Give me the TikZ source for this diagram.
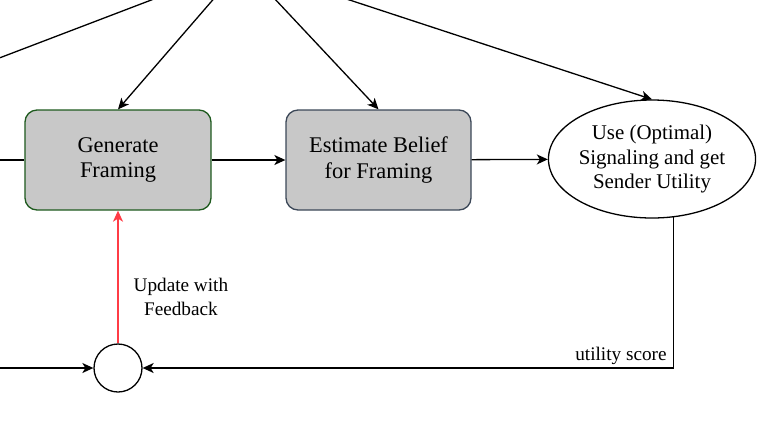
\documentclass[tikz,border=0pt]{standalone}
\usepackage{fontspec}
\setmainfont{Liberation Serif}
\usetikzlibrary{positioning,shapes.geometric,arrows.meta,calc}
\definecolor{genedge}{RGB}{30, 90, 30}
\definecolor{estedge}{RGB}{60, 72, 88}
\definecolor{boxfill}{RGB}{200, 200, 200}
\definecolor{feedred}{RGB}{255, 60, 70}

\begin{document}
\begin{tikzpicture}[
    x=1bp, y=-1bp,
    line width=1.3bp,
    font=\fontsize{22.5}{26}\selectfont,
    >={Stealth[length=11bp, width=10bp, inset=3bp]},
    stepbox/.style={rectangle, rounded corners=12bp, fill=boxfill, draw,
        minimum width=186bp, minimum height=100bp, align=center, inner sep=2bp},
    edgetext/.style={font=\fontsize{19.3}{24}\selectfont, align=center, inner sep=2bp},
]

\useasboundingbox (0,0) rectangle (767,420);
\clip (0,0) rectangle (767,420);

% ===== nodes =====
\node[stepbox, draw=genedge] (gen) at (118,160) {Generate\\Framing};
\node[stepbox, draw=estedge, minimum width=185bp] (est) at (378.5,160) {Estimate Belief\\for Framing};
\node[ellipse, draw, minimum width=202bp, minimum height=118bp, inner sep=0pt,
    align=center, font=\fontsize{21}{25}\selectfont] (use) at (652,159)
    {Use (Optimal)\\Signaling and get\\Sender Utility};
\node[circle, draw, minimum size=48bp, inner sep=0pt] (fb) at (118,368) {};

% off-picture ends
\coordinate (src) at (243,-35);
\coordinate (srcleft) at (-40,73);
\coordinate (inleft) at (-10,160);
\coordinate (fbleft) at (-10,368);

% ===== top connectors =====
\draw (src) -- (srcleft);
\draw[->] (src) -- (gen.north);
\draw[->] (src) -- (est.north);
\draw[->] (src) -- (use.north);

% ===== main row =====
\draw (inleft) -- (gen.west);
\draw[->] (gen) -- (est);
\draw[->] (est) -- (use);

% ===== feedback loop =====
\draw[->] (use.-70) |- node[edgetext, pos=0.5, above left, xshift=-4bp, yshift=1bp] {utility score} (fb.east);
\draw[->] (fbleft) -- (fb.west);
\draw[->, feedred] (fb.north) -- node[edgetext, text=black, pos=0.35, right, xshift=13bp] {Update with\\Feedback} (gen.south);

\end{tikzpicture}
\end{document}
